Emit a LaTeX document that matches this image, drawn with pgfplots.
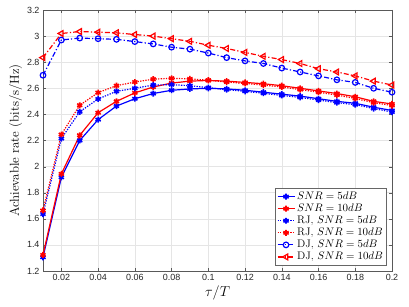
\documentclass[border=0pt]{standalone}
\usepackage{fontspec}
\usepackage{pgfplots}
\pgfplotsset{compat=1.18}
\newfontfamily\ticksf{Liberation Sans}
\begin{document}
\begin{tikzpicture}
\begin{axis}[
  scale only axis, width=349bp, height=261bp,
  at={(0,0)}, anchor=south west,
  xmin=0.01, xmax=0.2, ymin=1.2, ymax=3.2,
  xtick={0.02,0.04,...,0.2},
  xticklabels={0.02,0.04,0.06,0.08,0.1,0.12,0.14,0.16,0.18,0.2},
  ytick={1.2,1.4,...,3.2},
  yticklabels={1.2,1.4,1.6,1.8,2,2.2,2.4,2.6,2.8,3,3.2},
  scaled x ticks=false,
  grid=major,
  major grid style={color=black!10, line width=0.5pt},
  axis line style={color=black!65, line width=0.6pt},
  tick style={color=black!65},
  tick align=inside,
  major tick length=3pt,
  ticklabel style={font=\ticksf\fontsize{9}{10}\selectfont, text=black!85},
  /pgf/number format/assume math mode=true,
  xlabel={\fontsize{15}{17}\selectfont $\tau/T$},
  ylabel={\fontsize{13}{15}\selectfont Achievable rate (bits/s/Hz)},
  xlabel style={yshift=2pt},
  ylabel style={yshift=-2pt},
  legend style={at={(rel axis cs:0.985,0.022)}, anchor=south east,
    font=\fontsize{11}{12}\selectfont, draw=black!60, line width=0.6pt,
    row sep=-1pt, inner sep=1.5pt},
  legend cell align=left,
  rj/.style={dash pattern=on 1.3pt off 1.3pt},
  dj/.style={dash pattern=on 5pt off 2.2pt on 1.2pt off 2.2pt},
]
\addplot[blue, line width=1.2pt, mark=asterisk, mark size=3pt, mark options={solid, line width=1.6pt}] coordinates {
(0.01,1.305)(0.02,1.918)(0.03,2.20)(0.04,2.36)(0.05,2.464)(0.06,2.52)(0.07,2.56)(0.08,2.585)(0.09,2.595)(0.10,2.60)
(0.11,2.595)(0.12,2.585)(0.13,2.57)(0.14,2.555)(0.15,2.54)(0.16,2.52)(0.17,2.50)(0.18,2.485)(0.19,2.455)(0.20,2.43)};
\addlegendentry{$SNR = 5dB$}
\addplot[red, line width=1.2pt, mark=asterisk, mark size=3pt, mark options={solid, line width=1.6pt}] coordinates {
(0.01,1.323)(0.02,1.944)(0.03,2.24)(0.04,2.413)(0.05,2.50)(0.06,2.565)(0.07,2.61)(0.08,2.64)(0.09,2.655)(0.10,2.66)
(0.11,2.655)(0.12,2.645)(0.13,2.635)(0.14,2.62)(0.15,2.60)(0.16,2.58)(0.17,2.56)(0.18,2.535)(0.19,2.50)(0.20,2.48)};
\addlegendentry{$SNR = 10dB$}
\addplot[blue, line width=1.2pt, rj, mark=asterisk, mark size=3pt, mark options={solid, line width=1.6pt}] coordinates {
(0.01,1.636)(0.02,2.215)(0.03,2.42)(0.04,2.518)(0.05,2.577)(0.06,2.60)(0.07,2.625)(0.08,2.628)(0.09,2.62)(0.10,2.605)
(0.11,2.59)(0.12,2.577)(0.13,2.562)(0.14,2.545)(0.15,2.53)(0.16,2.51)(0.17,2.49)(0.18,2.475)(0.19,2.445)(0.20,2.418)};
\addlegendentry{RJ, $SNR = 5dB$}
\addplot[red, line width=1.2pt, rj, mark=asterisk, mark size=3pt, mark options={solid, line width=1.6pt}] coordinates {
(0.01,1.664)(0.02,2.246)(0.03,2.47)(0.04,2.567)(0.05,2.62)(0.06,2.648)(0.07,2.67)(0.08,2.677)(0.09,2.672)(0.10,2.662)
(0.11,2.648)(0.12,2.637)(0.13,2.625)(0.14,2.61)(0.15,2.59)(0.16,2.57)(0.17,2.548)(0.18,2.522)(0.19,2.49)(0.20,2.468)};
\addlegendentry{RJ, $SNR = 10dB$}
\addplot[blue, line width=1.2pt, dj, mark=o, mark size=2.8pt, mark options={solid, line width=1.2pt}] coordinates {
(0.01,2.70)(0.02,2.97)(0.03,2.985)(0.04,2.98)(0.05,2.975)(0.06,2.958)(0.07,2.94)(0.08,2.915)(0.09,2.90)(0.10,2.87)
(0.11,2.835)(0.12,2.81)(0.13,2.79)(0.14,2.755)(0.15,2.725)(0.16,2.695)(0.17,2.665)(0.18,2.645)(0.19,2.60)(0.20,2.57)};
\addlegendentry{DJ, $SNR = 5dB$}
\addplot[red, line width=1.2pt, dj, mark=triangle, mark size=3.4pt, mark options={solid, rotate=90, line width=1.2pt}] coordinates {
(0.01,2.835)(0.02,3.02)(0.03,3.035)(0.04,3.03)(0.05,3.025)(0.06,3.012)(0.07,3.0)(0.08,2.98)(0.09,2.96)(0.10,2.93)
(0.11,2.905)(0.12,2.875)(0.13,2.845)(0.14,2.82)(0.15,2.79)(0.16,2.75)(0.17,2.725)(0.18,2.695)(0.19,2.655)(0.20,2.625)};
\addlegendentry{DJ, $SNR = 10dB$}
\end{axis}
\pgfresetboundingbox
\useasboundingbox (-43bp,-36bp) rectangle (366bp,271bp);
\end{tikzpicture}
\end{document}
